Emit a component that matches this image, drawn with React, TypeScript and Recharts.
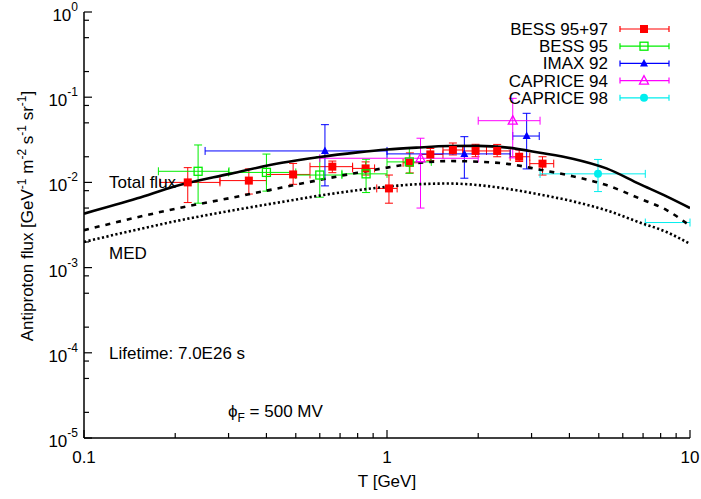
import React from "react";
import {
    ComposedChart,
    Scatter,
    Line,
    XAxis,
    YAxis,
    ErrorBar,
    Legend,
} from "recharts";

const FONT = '"Liberation Sans", Arial, Helvetica, "DejaVu Sans", sans-serif';

// model curves (kinetic energy in GeV, flux)
const T_GRID = [0.1, 0.15, 0.2, 0.3, 0.45, 0.6, 0.8, 1.0, 1.25, 1.6, 2.0, 2.5, 3.2, 4.1, 5.3, 6.8, 8.4, 10];
const FLUX_TOTAL = [4.3e-3, 6.5e-3, 9.0e-3, 0.0125, 0.017, 0.0199, 0.0225, 0.0243, 0.0256, 0.0267, 0.0268, 0.0256, 0.0223, 0.019, 0.0146, 0.0096, 0.0068, 0.005];
const FLUX_DASHED = [2.75e-3, 3.9e-3, 4.9e-3, 6.5e-3, 8.7e-3, 0.0107, 0.013, 0.0149, 0.0168, 0.0178, 0.0175, 0.0165, 0.0141, 0.0118, 0.0093, 0.0065, 0.0047, 0.0031];
const FLUX_MED = [2.0e-3, 2.8e-3, 3.5e-3, 4.6e-3, 5.9e-3, 7.0e-3, 8.1e-3, 8.9e-3, 9.5e-3, 9.7e-3, 9.3e-3, 8.4e-3, 7.2e-3, 6.0e-3, 4.7e-3, 3.4e-3, 2.6e-3, 1.9e-3];

// BESS 95+97
const BESS9597_T = [0.22, 0.35, 0.49, 0.66, 0.85, 1.015, 1.19, 1.39, 1.65, 1.96, 2.31, 2.73, 3.26];
const BESS9597_T_LO = [0.178, 0.281, 0.4, 0.557, 0.77, 0.925, 1.13, 1.29, 1.53, 1.78, 2.13, 2.55, 2.96];
const BESS9597_T_HI = [0.281, 0.4, 0.557, 0.77, 0.91, 1.08, 1.29, 1.53, 1.78, 2.13, 2.55, 2.96, 3.55];
const BESS9597_FLUX = [0.01, 0.0105, 0.0124, 0.0153, 0.0146, 0.0085, 0.017, 0.0213, 0.024, 0.0234, 0.0234, 0.02, 0.0166];
const BESS9597_FLUX_LO = [0.0058, 0.0073, 0.0095, 0.013, 0.0122, 0.0057, 0.0129, 0.018, 0.021, 0.02, 0.02, 0.0176, 0.0122];
const BESS9597_FLUX_HI = [0.0149, 0.0144, 0.0167, 0.0178, 0.0174, 0.0122, 0.0222, 0.025, 0.029, 0.028, 0.0279, 0.024, 0.02];

// BESS 95
const BESS95_T = [0.238, 0.4, 0.6, 0.853, 1.185];
const BESS95_T_LO = [0.176, 0.3, 0.5, 0.71, 1.0];
const BESS95_T_HI = [0.301, 0.5, 0.71, 1.0, 1.4];
const BESS95_FLUX = [0.0135, 0.0131, 0.0122, 0.0126, 0.0174];
const BESS95_FLUX_LO = [0.0057, 0.0079, 0.0067, 0.0076, 0.0128];
const BESS95_FLUX_HI = [0.0275, 0.0215, 0.02, 0.0187, 0.0252];

// IMAX 92
const IMAX_T = [0.624, 1.8, 2.89];
const IMAX_T_LO = [0.251, 1.0, 2.6];
const IMAX_T_HI = [1.0, 2.55, 3.18];
const IMAX_FLUX = [0.0234, 0.0216, 0.035];
const IMAX_FLUX_LO = [0.0091, 0.0112, 0.0144];
const IMAX_FLUX_HI = [0.0476, 0.0344, 0.0647];

// CAPRICE 94
const CAP94_T = [1.29, 2.6];
const CAP94_T_LO = [0.6, 2.0];
const CAP94_T_HI = [2.0, 3.2];
const CAP94_FLUX = [0.0192, 0.053];
const CAP94_FLUX_LO = [0.005, 0.0194];
const CAP94_FLUX_HI = [0.033, 0.097];

// CAPRICE 98 (second point sits past 10 GeV, only its bar up to the frame shows)
const CAP98_T = [4.97, 12];
const CAP98_T_LO = [3.2, 7.12];
const CAP98_T_HI = [7.12, 10];
const CAP98_FLUX = [0.0126, 0.00338];
const CAP98_FLUX_LO = [0.0078, 0.0024];
const CAP98_FLUX_HI = [0.0186, 0.0048];

const X_TICKS = [0.1, 0.2, 0.3, 0.4, 0.5, 0.6, 0.7, 0.8, 0.9, 1, 2, 3, 4, 5, 6, 7, 8, 9, 10];
const Y_TICKS = [
    1e-5, 2e-5, 5e-5, 8e-5, 1e-4, 2e-4, 5e-4, 8e-4, 1e-3, 2e-3, 5e-3, 8e-3,
    1e-2, 2e-2, 5e-2, 8e-2, 1e-1, 2e-1, 5e-1, 8e-1, 1,
];

const curve = (ys: number[]) => T_GRID.map((x, i) => ({ x, y: ys[i] }));

const points = (
    t: number[],
    f: number[],
    tLo: number[],
    tHi: number[],
    fLo: number[],
    fHi: number[]
) =>
    t.map((x, i) => ({
        x,
        y: f[i],
        ex: [x - tLo[i], tHi[i] - x],
        ey: [f[i] - fLo[i], fHi[i] - f[i]],
    }));

const SERIES = [
    { name: "BESS 95+97", color: "#ff0000", kind: "square", data: points(BESS9597_T, BESS9597_FLUX, BESS9597_T_LO, BESS9597_T_HI, BESS9597_FLUX_LO, BESS9597_FLUX_HI) },
    { name: "BESS 95", color: "#00ee00", kind: "squareOpen", data: points(BESS95_T, BESS95_FLUX, BESS95_T_LO, BESS95_T_HI, BESS95_FLUX_LO, BESS95_FLUX_HI) },
    { name: "IMAX 92", color: "#0000ff", kind: "triangle", data: points(IMAX_T, IMAX_FLUX, IMAX_T_LO, IMAX_T_HI, IMAX_FLUX_LO, IMAX_FLUX_HI) },
    { name: "CAPRICE 94", color: "#ff00ff", kind: "triangleOpen", data: points(CAP94_T, CAP94_FLUX, CAP94_T_LO, CAP94_T_HI, CAP94_FLUX_LO, CAP94_FLUX_HI) },
    { name: "CAPRICE 98", color: "#00eeee", kind: "circle", data: points(CAP98_T, CAP98_FLUX, CAP98_T_LO, CAP98_T_HI, CAP98_FLUX_LO, CAP98_FLUX_HI) },
];

const Marker = ({ kind, color, cx, cy }: any) => {
    if (cx == null || cy == null) return null;
    switch (kind) {
        case "square":
            return <rect x={cx - 4} y={cy - 4} width={8} height={8} fill={color} />;
        case "squareOpen":
            return <rect x={cx - 4} y={cy - 4} width={8} height={8} fill="none" stroke={color} strokeWidth={1.3} />;
        case "triangle":
            return <polygon points={`${cx},${cy - 4.5} ${cx - 4},${cy + 3} ${cx + 4},${cy + 3}`} fill={color} />;
        case "triangleOpen":
            return <polygon points={`${cx},${cy - 5} ${cx - 4.5},${cy + 3.5} ${cx + 4.5},${cy + 3.5}`} fill="none" stroke={color} strokeWidth={1.3} />;
        default:
            return <circle cx={cx} cy={cy} r={4} fill={color} />;
    }
};

const isMajor = (v: number) => Math.abs(Math.log10(v) - Math.round(Math.log10(v))) < 1e-6;

const BottomTick = ({ x, y, payload }: any) => {
    const major = isMajor(payload.value);
    return (
        <g>
            <line x1={x} x2={x} y1={y} y2={y - (major ? 8 : 5)} stroke="#000" strokeWidth={1.2} />
            {major && (
                <text x={x} y={y + 25} textAnchor="middle" fontSize={17} fontFamily={FONT} fill="#000">
                    {payload.value}
                </text>
            )}
        </g>
    );
};

const TopTick = ({ x, y, payload }: any) => (
    <line x1={x} x2={x} y1={y} y2={y + (isMajor(payload.value) ? 8 : 5)} stroke="#000" strokeWidth={1.2} />
);

const LeftTick = ({ x, y, payload }: any) => {
    const major = isMajor(payload.value);
    return (
        <g>
            <line x1={x} x2={x + (major ? 8 : 5)} y1={y} y2={y} stroke="#000" strokeWidth={1.2} />
            {major && (
                <text x={x - 6} y={y + 9} textAnchor="end" fontSize={17} fontFamily={FONT} fill="#000">
                    10
                    <tspan dy={-10} fontSize={12}>
                        {Math.round(Math.log10(payload.value))}
                    </tspan>
                </text>
            )}
        </g>
    );
};

const RightTick = ({ x, y, payload }: any) => (
    <line x1={x} x2={x - (isMajor(payload.value) ? 8 : 5)} y1={y} y2={y} stroke="#000" strokeWidth={1.2} />
);

const renderLegend = (props: any) => {
    const names = (props.payload || []).map((e: any) => e.value);
    const rows = SERIES.filter((s) => names.includes(s.name));
    return (
        <svg width={250} height={100} style={{ overflow: "visible" }}>
            {rows.map((s, i) => {
                const cy = 11 + i * 17.2;
                return (
                    <g key={s.name}>
                        <text x={168} y={cy + 6} textAnchor="end" fontSize={17} fontFamily={FONT} fill="#000">
                            {s.name}
                        </text>
                        <line x1={180} x2={229} y1={cy} y2={cy} stroke={s.color} strokeWidth={1.2} />
                        <line x1={180} x2={180} y1={cy - 3} y2={cy + 3} stroke={s.color} strokeWidth={1.2} />
                        <line x1={229} x2={229} y1={cy - 3} y2={cy + 3} stroke={s.color} strokeWidth={1.2} />
                        <Marker kind={s.kind} color={s.color} cx={204} cy={cy} />
                    </g>
                );
            })}
        </svg>
    );
};

const textStyle = { fontFamily: FONT, fontSize: 17, fill: "#000" };

export default function App() {
    return (
        <div style={{ position: "absolute", left: 0, top: 0, width: 701, height: 499, background: "#fff", fontFamily: FONT }}>
            <ComposedChart width={701} height={499} margin={{ top: 12, right: 11, bottom: 0, left: 0 }}>
                <XAxis
                    xAxisId={0}
                    dataKey="x"
                    type="number"
                    scale="log"
                    domain={[0.1, 10]}
                    allowDataOverflow
                    ticks={X_TICKS}
                    interval={0}
                    tick={BottomTick}
                    tickLine={false}
                    tickSize={0}
                    tickMargin={0}
                    height={61}
                    axisLine={{ stroke: "#000", strokeWidth: 1.5 }}
                />
                <XAxis
                    xAxisId="top"
                    orientation="top"
                    type="number"
                    scale="log"
                    domain={[0.1, 10]}
                    allowDataOverflow
                    ticks={X_TICKS}
                    interval={0}
                    tick={TopTick}
                    tickLine={false}
                    tickSize={0}
                    tickMargin={0}
                    height={0}
                    axisLine={{ stroke: "#000", strokeWidth: 1.5 }}
                />
                <YAxis
                    yAxisId={0}
                    dataKey="y"
                    type="number"
                    scale="log"
                    domain={[1e-5, 1]}
                    allowDataOverflow
                    ticks={Y_TICKS}
                    interval={0}
                    tick={LeftTick}
                    tickLine={false}
                    tickSize={0}
                    tickMargin={0}
                    width={84}
                    axisLine={{ stroke: "#000", strokeWidth: 1.5 }}
                />
                <YAxis
                    yAxisId="right"
                    orientation="right"
                    type="number"
                    scale="log"
                    domain={[1e-5, 1]}
                    allowDataOverflow
                    ticks={Y_TICKS}
                    interval={0}
                    tick={RightTick}
                    tickLine={false}
                    tickSize={0}
                    tickMargin={0}
                    width={0}
                    axisLine={{ stroke: "#000", strokeWidth: 1.5 }}
                />
                {SERIES.map((s) => (
                    <Scatter
                        key={s.name}
                        name={s.name}
                        data={s.data}
                        fill={s.color}
                        isAnimationActive={false}
                        shape={(p: any) => <Marker kind={s.kind} color={s.color} cx={p.cx} cy={p.cy} />}
                    >
                        <ErrorBar dataKey="ex" direction="x" stroke={s.color} strokeWidth={1} width={4} isAnimationActive={false} />
                        <ErrorBar dataKey="ey" direction="y" stroke={s.color} strokeWidth={1} width={4} isAnimationActive={false} />
                    </Scatter>
                ))}
                <Line data={curve(FLUX_TOTAL)} dataKey="y" type="monotone" stroke="#000" strokeWidth={2.6} dot={false} activeDot={false} legendType="none" isAnimationActive={false} />
                <Line data={curve(FLUX_DASHED)} dataKey="y" type="monotone" stroke="#000" strokeWidth={2.6} strokeDasharray="5 6" dot={false} activeDot={false} legendType="none" isAnimationActive={false} />
                <Line data={curve(FLUX_MED)} dataKey="y" type="monotone" stroke="#000" strokeWidth={2.6} strokeDasharray="2.2 2.4" dot={false} activeDot={false} legendType="none" isAnimationActive={false} />
                <Legend
                    layout="vertical"
                    align="center"
                    verticalAlign="middle"
                    content={renderLegend}
                    wrapperStyle={{ left: 440, top: 18, width: 250, height: 100 }}
                />
            </ComposedChart>
            <svg width={701} height={499} style={{ position: "absolute", left: 0, top: 0, pointerEvents: "none" }}>
                <text x={109} y={188} style={textStyle}>Total flux</text>
                <text x={109} y={259} style={textStyle}>MED</text>
                <text x={109} y={359} style={textStyle}>Lifetime: 7.0E26 s</text>
                <text x={228} y={417} style={textStyle}>
                    ϕ<tspan dy={5} fontSize={12}>F</tspan>
                    <tspan dy={-5}> = 500 MV</tspan>
                </text>
                <text x={387} y={487} textAnchor="middle" style={textStyle}>T [GeV]</text>
                <text transform="translate(33,216) rotate(-90)" textAnchor="middle" style={textStyle}>
                    Antiproton flux [GeV<tspan dy={-7} fontSize={12}>-1</tspan>
                    <tspan dy={7}> m</tspan>
                    <tspan dy={-7} fontSize={12}>-2</tspan>
                    <tspan dy={7}> s</tspan>
                    <tspan dy={-7} fontSize={12}>-1</tspan>
                    <tspan dy={7}> sr</tspan>
                    <tspan dy={-7} fontSize={12}>-1</tspan>
                    <tspan dy={7}>]</tspan>
                </text>
            </svg>
        </div>
    );
}
